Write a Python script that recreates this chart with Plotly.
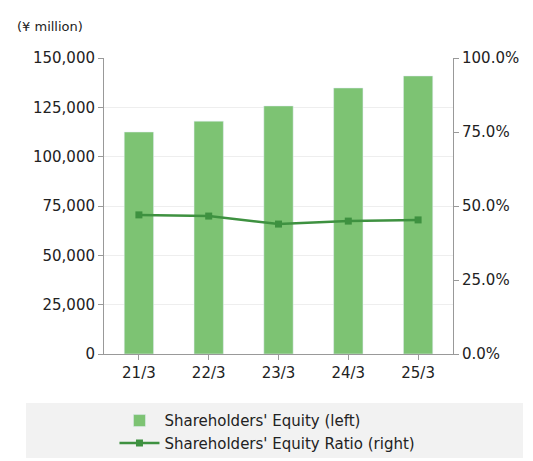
import plotly.graph_objects as go

# fiscal years and values
years = ["21/3", "22/3", "23/3", "24/3", "25/3"]
equity = [112500, 118000, 125700, 134800, 140900]
equity_ratio = [47.0, 46.6, 43.9, 44.9, 45.3]

left_ticks = [0, 25000, 50000, 75000, 100000, 125000, 150000]
right_ticks = [0, 25, 50, 75, 100]

fig = go.Figure()

fig.add_trace(go.Bar(
    x=years, y=equity,
    name="Shareholders' Equity (left)",
    marker=dict(color="#7dc373"),
    width=0.42,
))

fig.add_trace(go.Scatter(
    x=years, y=equity_ratio,
    name="Shareholders' Equity Ratio (right)",
    mode="lines+markers",
    line=dict(color="#3e9140", width=2.5),
    marker=dict(symbol="square", size=7, color="#3e9140"),
    yaxis="y2",
))

fig.update_layout(
    width=533, height=461,
    margin=dict(l=96, r=88, t=50, b=115, autoexpand=False),
    paper_bgcolor="white",
    plot_bgcolor="white",
    font=dict(family="DejaVu Sans", size=15, color="#222"),
    showlegend=True,
    legend=dict(
        orientation="v",
        x=0.03, xanchor="left",
        y=-0.17, yanchor="top",
        bgcolor="rgba(0,0,0,0)",
        font=dict(size=15),
        itemwidth=40,
        tracegroupgap=0,
    ),
    xaxis=dict(
        showline=True, linecolor="#999", ticks="outside",
        tickcolor="#999", ticklen=5,
    ),
    yaxis=dict(
        range=[0, 150000],
        tickvals=left_ticks,
        tickformat=",d",
        showgrid=True, gridcolor="#eeeeee",
        showline=True, linecolor="#999",
        ticks="outside", tickcolor="#999", ticklen=5,
        zeroline=False,
    ),
    yaxis2=dict(
        overlaying="y", side="right",
        range=[0, 100],
        tickvals=right_ticks,
        ticktext=[f"{v:.1f}%" for v in right_ticks],
        showgrid=False,
        showline=True, linecolor="#999",
        ticks="outside", tickcolor="#999", ticklen=5,
        zeroline=False,
    ),
    shapes=[dict(
        type="rect", xref="paper", yref="paper", layer="below",
        x0=-0.2235, x1=1.2006, y0=-0.1655, y1=-0.351,
        fillcolor="#f2f2f2", line=dict(width=0),
    )],
    annotations=[dict(
        text="(¥ million)", xref="paper", yref="paper",
        x=-0.255, y=1.075, xanchor="left", yanchor="bottom",
        showarrow=False, font=dict(size=13),
    )],
)

fig.write_html("out.html")
